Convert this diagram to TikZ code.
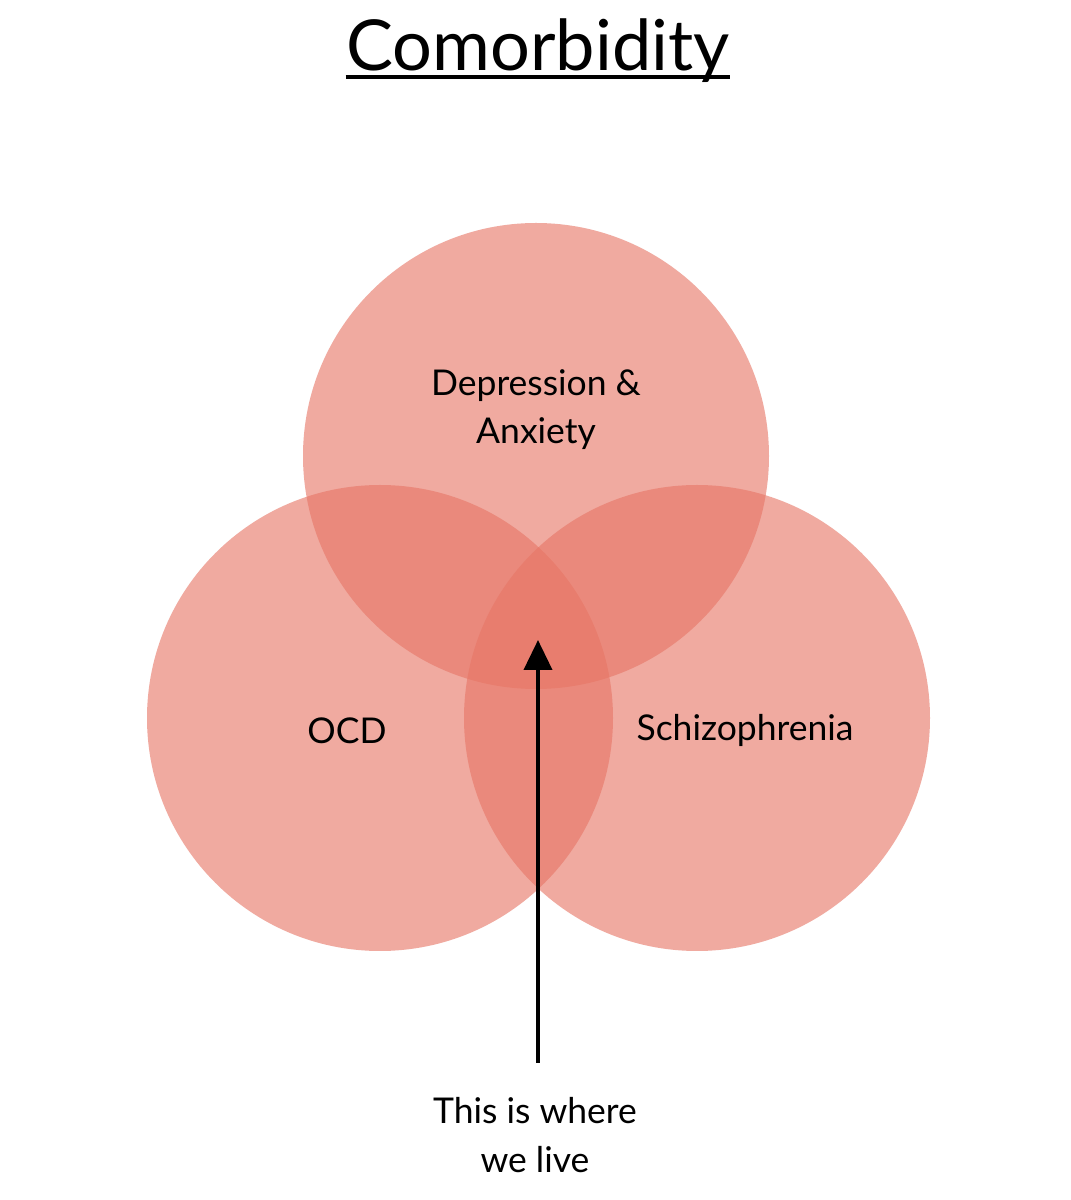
\documentclass[tikz,border=0pt]{standalone}
\usepackage{fontspec}
\setmainfont{Lato}
\usetikzlibrary{arrows.meta}
\definecolor{venn}{RGB}{231,118,102}
\begin{document}
\begin{tikzpicture}[>={Triangle[width=0.28cm,length=0.3cm]},line join=round,font=\fontsize{10.1}{13.8}\selectfont]
	\def\yrow{4.82}
	\def\rad{4.66cm}
	\fill[white] (0,0) rectangle (10.71,12);
	% the three sets
	\foreach \n/\x/\y in {D/5.36/7.44,O/3.80/\yrow,S/6.97/\yrow}
	{
		\node[circle,fill=venn,fill opacity=0.62,minimum size=\rad,inner sep=0pt] (\n) at (\x,\y){};
	}
	% labels
	\node[align=center,anchor=base] (DA) at (5.36,7.56){Depression \&\\Anxiety};
	\node[anchor=base] (OL) at (3.47,4.56){OCD};
	\node[anchor=base] (SL) at (7.45,4.59){Schizophrenia};
	% title
	\node[inner sep=0pt,anchor=base,font=\fontsize{20}{24}\selectfont] (T) at (5.38,11.29){Comorbidity};
	\draw[line width=1.2pt] ([yshift=-1.8pt]T.base west)--([yshift=-1.8pt]T.base east);
	% arrow
	\coordinate (tip) at (5.38,5.60);
	\node[align=center,anchor=north,inner sep=0pt] (L) at (5.35,1.03){This is where\\we live};
	\draw[->,line width=1.1pt,shorten <=0.34cm] (L.north -| tip)--(tip);
\end{tikzpicture}
\end{document}
